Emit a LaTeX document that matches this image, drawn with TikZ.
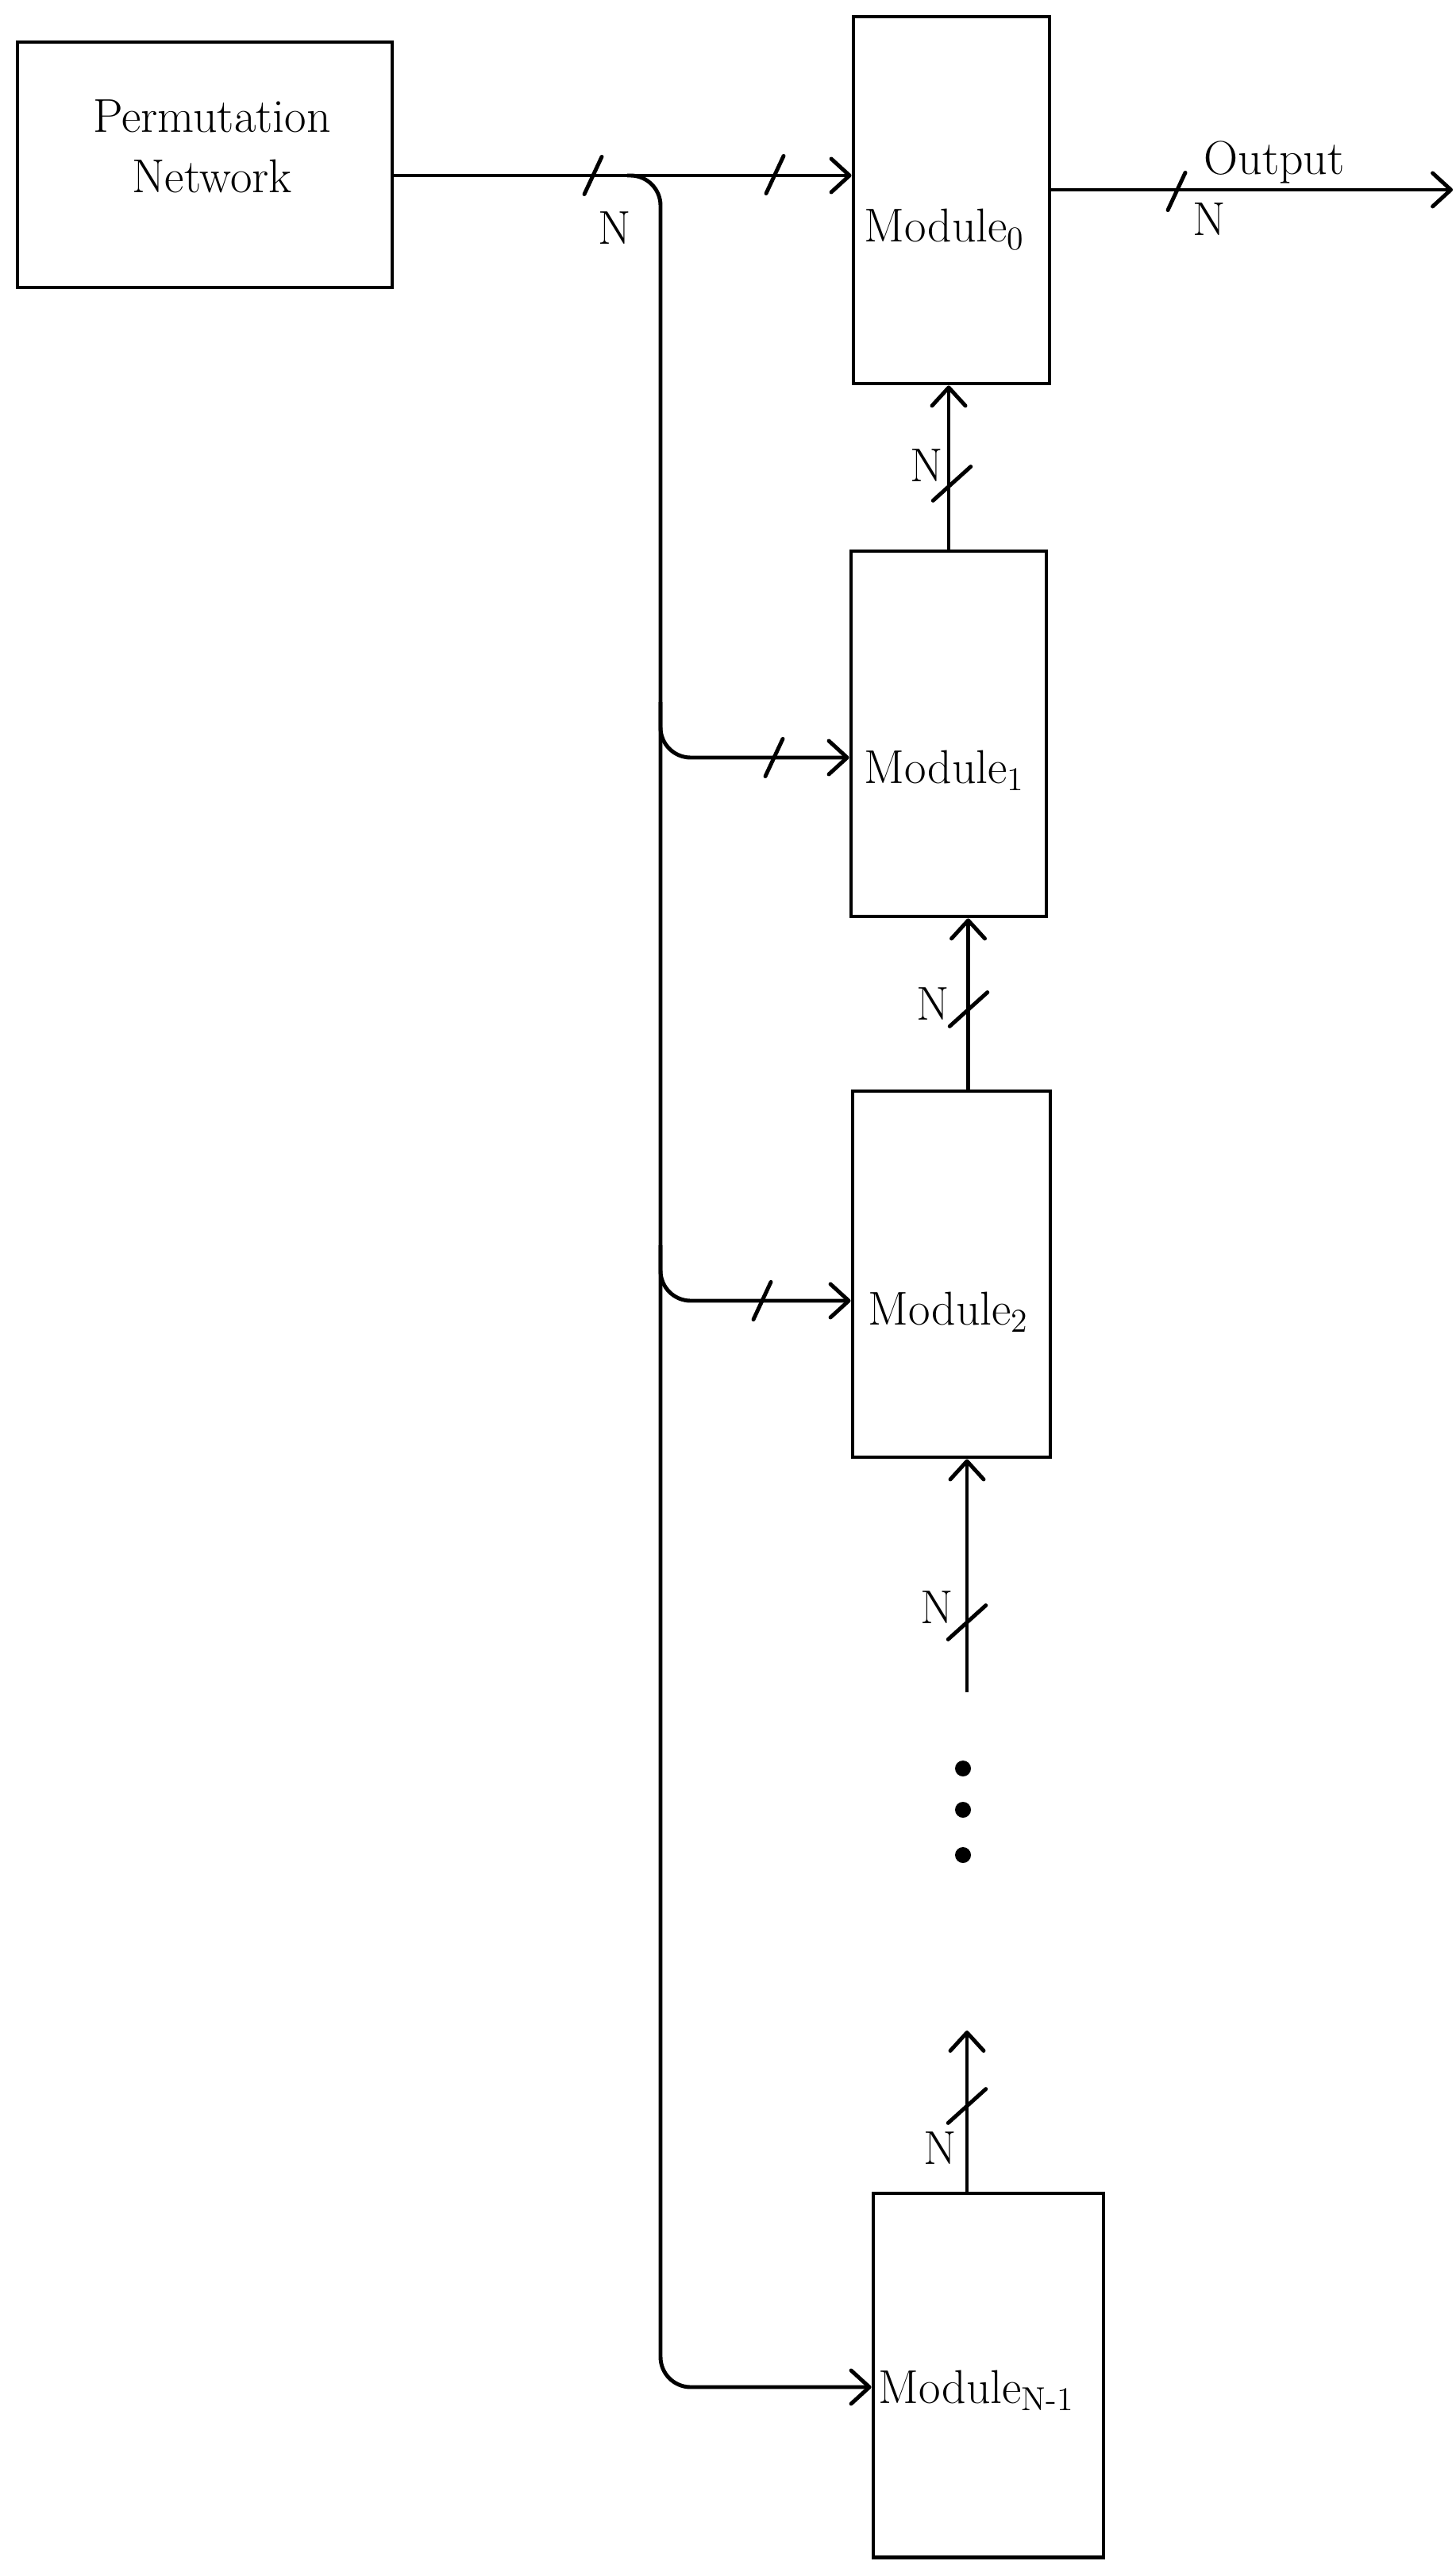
\documentclass[tikz,border=0pt]{standalone}
\usepackage{tikz}
\usetikzlibrary{positioning, arrows.meta}

\begin{document}
\begin{tikzpicture}[
  font=\fontsize{17}{21.6}\selectfont,
  box/.style={rectangle, draw, line width=1.4pt, inner sep=0pt},
  module/.style={box, minimum width=2.48cm, minimum height=4.61cm},
  modlabel/.style={anchor=base west, inner sep=0pt},
  tag/.style={anchor=base, inner sep=0pt},
  wire/.style={line width=1.4pt, rounded corners=0.38cm},
  arr/.style={wire, -{Straight Barb[length=2.3mm, width=4.2mm, round]}},
  cut/.style={draw, line width=1.4pt, line cap=round, line join=round,
              minimum width=0pt, inner sep=0pt},
  hcut/.style={cut, minimum height=0.52cm, rotate=-25},
  vcut/.style={cut, minimum height=0.64cm, rotate=-48},
  bigdot/.style={circle, fill, inner sep=0pt, minimum size=0.2cm}
]
\useasboundingbox (0,0) rectangle (18.33,-32.25);

% blocks
\node[box, minimum width=4.72cm, minimum height=3.09cm] (perm) at (2.58,-2.075) {};
\node[align=center, inner sep=0pt] (permtxt) at (2.67,-1.84) {Permutation\\Network};
\node[module, minimum width=2.47cm, minimum height=4.62cm] (mod0) at (11.985,-2.52) {};
\node[module, minimum width=2.46cm, minimum height=4.60cm] (mod1) at (11.95,-9.24) {};
\node[module, minimum width=2.49cm] (mod2) at (11.985,-16.045) {};
\node[module, minimum width=2.90cm, minimum height=4.58cm] (modN) at (12.45,-29.91) {};
\node[modlabel] (mod0txt) at (10.88,-3.05) {Module\textsubscript{0}};
\node[modlabel] (mod1txt) at (10.88,-9.86) {Module\textsubscript{1}};
\node[modlabel] (mod2txt) at (10.93,-16.68) {Module\textsubscript{2}};
\node[modlabel] (modNtxt) at (11.06,-30.26) {Module\textsubscript{N-1}};

% bus points
\coordinate (tap)  at (7.90,-2.21);
\coordinate (br1)  at (8.32,-9.54);
\coordinate (br2)  at (8.32,-16.38);
\coordinate (brN)  at (8.32,-30.06);
\coordinate (out)  at (18.30,-2.39);
\coordinate (tail2) at (12.18,-21.31);
\coordinate (head) at (12.18,-25.57);

% connectors
\draw[arr] (perm.east |- tap) -- (mod0.west |- tap);
\draw[arr] (tap) -| (brN) -- (modN.west |- brN);
\draw[arr] (br1) ++(0,0.7) |- (mod1.west |- br1);
\draw[arr] (br2) ++(0,0.7) |- (mod2.west |- br2);
\draw[arr] (mod0.east |- out) -- (out);
\draw[arr] (mod1.north) -- (mod1.north |- mod0.south);
\draw[arr] ([xshift=0.21cm]mod2.north) -- ([xshift=0.21cm]mod2.north |- mod1.south);
\draw[arr] (tail2) -- (tail2 |- mod2.south);
\draw[arr] (head |- modN.north) -- (head);

% bus width marks
\node[hcut] (cut1) at (7.47,-2.21) {};
\node[hcut] (cut2) at (9.76,-2.20) {};
\node[hcut] (cut3) at (14.82,-2.41) {};
\node[hcut] (cut4) at (9.75,-9.54) {};
\node[hcut] (cut5) at (9.60,-16.38) {};
\node[vcut] (cut6) at (11.99,-6.09) {};
\node[vcut] (cut7) at (12.20,-12.71) {};
\node[vcut] (cut8) at (12.18,-20.43) {};
\node[vcut] (cut9) at (12.18,-26.52) {};
\node[tag] (n1) at (7.745,-3.08) {N};
\node[tag] (n2) at (15.23,-2.97) {N};
\node[tag] (outtxt) at (16.05,-2.20) {Output};
\node[tag] (n3) at (11.67,-6.06) {N};
\node[tag] (n4) at (11.75,-12.84) {N};
\node[tag] (n5) at (11.80,-20.44) {N};
\node[tag] (n6) at (11.84,-27.25) {N};

% continuation
\node[bigdot] (d1) at (12.13,-22.27) {};
\node[bigdot] (d2) at (12.13,-22.79) {};
\node[bigdot] (d3) at (12.13,-23.36) {};
\end{tikzpicture}
\end{document}
